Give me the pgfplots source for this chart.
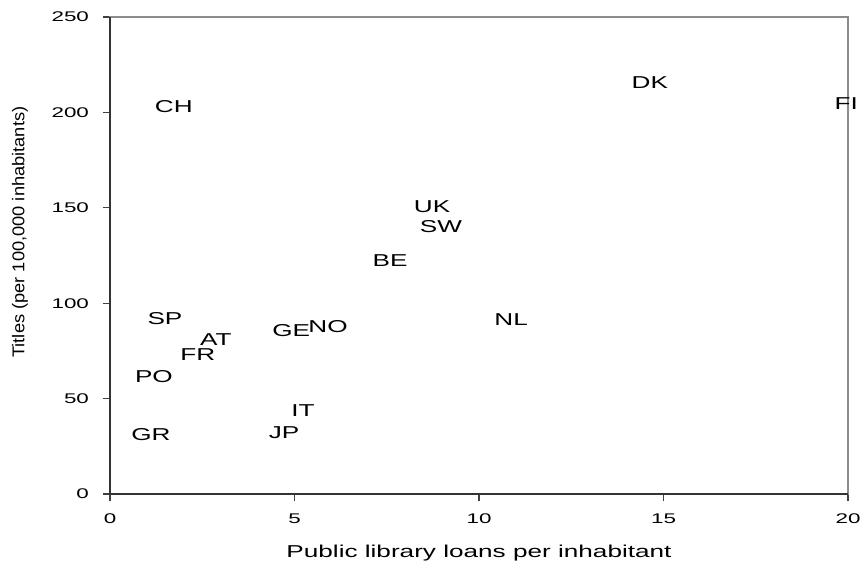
\documentclass[border=0pt]{standalone}
\usepackage{graphicx}
\usepackage{fontspec}
\setmainfont{Liberation Sans}
% the reference text is drawn wide, so the fonts are stretched to match
\newfontfamily\widelabels[FakeStretch=1.52]{Liberation Sans}
\newfontfamily\narrowy[FakeStretch=1.07]{Liberation Sans}
\newcommand\tickbox[1]{\scalebox{1.6}[1]{\fontsize{10.5}{12}\selectfont #1}}
\usepackage{pgfplots}
\pgfplotsset{compat=1.18}
\usepackage{pgfplotstable}

\pgfplotstableread{
x y label
1.73 202.8 CH
14.63 215.4 DK
19.95 204.4 FI
8.73 150.4 UK
8.97 139.9 SW
7.59 122.1 BE
10.87 91.2 NL
1.49 92.2 SP
5.91 87.5 NO
4.91 85.4 GE
2.87 80.7 AT
2.38 72.9 FR
1.19 61.3 PO
5.23 43.5 IT
1.11 31.4 GR
4.72 32.0 JP
}\loans

\begin{document}
\begin{tikzpicture}
\begin{axis}[
 scale only axis,
 width=553.5pt, height=357.75pt,
 xmin=0, xmax=20, ymin=0, ymax=250,
 xtick={0,5,...,20}, ytick={0,50,...,250},
 /pgf/number format/assume math mode=true,
 xticklabel={\tickbox{\pgfmathprintnumber{\tick}}},
 yticklabel={\tickbox{\pgfmathprintnumber{\tick}}},
 xtick pos=left, ytick pos=left,
 tick align=outside, major tick length=5.25pt,
 tick style={black!75, line width=0.8pt},
 axis line style={black!45, line width=0.8pt},
 yticklabel style={anchor=east, xshift=-7pt},
 xticklabel style={anchor=north, yshift=-6pt},
 xlabel={Public library loans per inhabitant},
 ylabel={Titles (per 100,000 inhabitants)},
 xlabel style={font=\widelabels\fontsize{12.9}{14}\selectfont,
  at={(axis description cs:0.5,-0.124)}, anchor=center},
 ylabel style={font=\narrowy\fontsize{12.8}{14}\selectfont,
  at={(axis description cs:-0.122,0.549)}, anchor=center},
 clip=false,
]
\addplot[only marks, mark=none, nodes near coords, point meta=explicit symbolic,
 every node near coord/.style={anchor=center, inner sep=0pt,
  font=\widelabels\fontsize{12.9}{14}\selectfont}]
 table[x=x, y=y, meta=label] {\loans};
\draw[black!80, line width=0.9pt] (rel axis cs:0,1) -- (rel axis cs:0,0) -- (rel axis cs:1,0);
\coordinate (O) at (rel axis cs:0,0);
\end{axis}
\pgfresetboundingbox
\path[use as bounding box] ([xshift=-82.5pt, yshift=-54.75pt]O) rectangle ([xshift=567pt, yshift=370.5pt]O);
\end{tikzpicture}
\end{document}
